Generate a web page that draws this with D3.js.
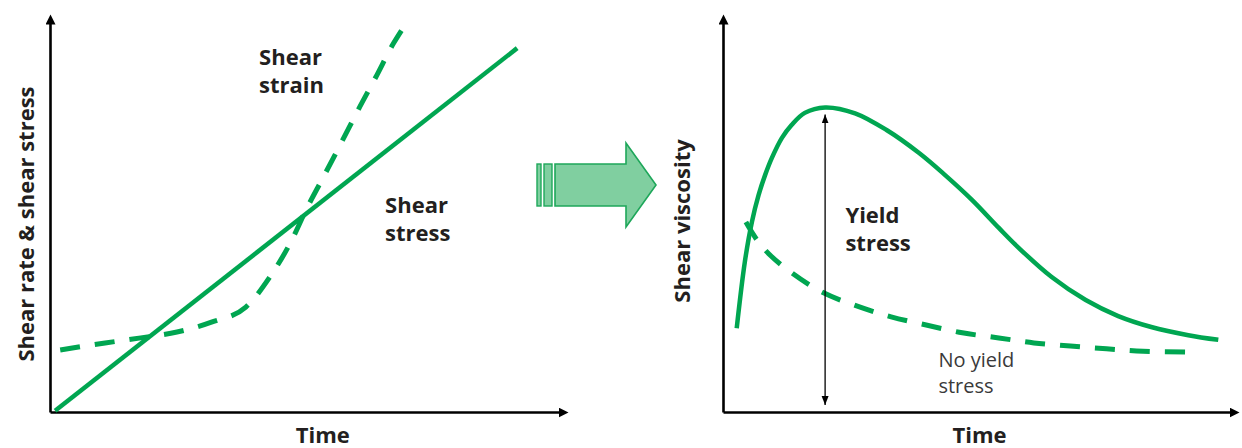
<!DOCTYPE html>
<html>
<head>
	<title>shear viscosity</title>
	<meta charset="utf-8">
	<script src="https://cdn.jsdelivr.net/npm/d3@7"></script>
</head>
<style type="text/css">
	body { margin:0; background-color:#ffffff; }
	svg text { font-family:"Open Sans", "Noto Sans", sans-serif; }
</style>
<body>
</body>
</html>
<script type="text/javascript">
	// left panel: shear stress (solid) and shear strain (dashed) against time
	var stressTime = [1, 91.6];
	var stressValue = [0.3, 93.3];
	var strainTime = [2, 10.8, 17.8, 24.9, 31.8, 38.4, 43.1, 47.3, 50.2, 53.5, 57.1, 60.4, 63.9, 67.3, 70];
	var strainValue = [15.9, 17.7, 19, 20.5, 23.1, 26.9, 34.6, 43.8, 51.8, 60, 69, 77.4, 85.9, 94.4, 100];

	// right panel: viscosity with yield stress (solid) and without (dashed)
	var yieldTime = [2.7, 4.3, 5.7, 7, 8.3, 9.6, 11.6, 13.5, 16.1, 20.1, 26, 32.2, 38.6, 43.5, 49, 54.3, 58.2, 64.7, 71.4, 77.8, 84.3, 91.6, 97.5];
	var yieldValue = [21.5, 38.5, 48.8, 55.6, 60.8, 65.1, 70.3, 73.6, 76.7, 78.1, 76.6, 72.3, 66.4, 61, 54.4, 47.2, 42.1, 34.6, 28.7, 24.6, 21.8, 19.7, 18.5];
	var noYieldTime = [4.5, 6.7, 9.2, 13.3, 19.4, 26.3, 33.1, 40, 47.1, 54.3, 61.2, 68.4, 75.5, 82.7, 91.6];
	var noYieldValue = [48.7, 44.1, 40.3, 35.9, 30.8, 27.2, 24.4, 22.3, 20.3, 19, 17.7, 16.9, 16.2, 15.6, 15.4];

	var green = "#00a651";
	var ink = "#231f20";
	var width = 1242, height = 448;

	var svg = d3.select("body").append("svg").attr("width", width).attr("height", height);

	var defs = svg.append("defs");
	defs.append("marker").attr("id", "axisArrow")
		.attr("markerUnits", "userSpaceOnUse")
		.attr("markerWidth", 12).attr("markerHeight", 10)
		.attr("refX", 2).attr("refY", 5).attr("orient", "auto")
		.append("path").attr("d", "M0,0L10,5L0,10z").attr("fill", "#000");
	defs.append("marker").attr("id", "thinArrow")
		.attr("markerUnits", "userSpaceOnUse")
		.attr("markerWidth", 10).attr("markerHeight", 8)
		.attr("refX", 9).attr("refY", 3.5).attr("orient", "auto-start-reverse")
		.append("path").attr("d", "M0,0L9,3.5L0,7z").attr("fill", "#000");

	function zip(a, b) { return a.map(function(d, i) { return [d, b[i]]; }); }

	function drawAxes(x, y) {
		var ax = svg.append("g").attr("transform", "translate(0," + y(0) + ")")
			.call(d3.axisBottom(x).tickValues([]).tickSizeOuter(0));
		var ay = svg.append("g").attr("transform", "translate(" + x(0) + ",0)")
			.call(d3.axisLeft(y).tickValues([]).tickSizeOuter(0));
		[ax, ay].forEach(function(a) {
			a.select(".domain").attr("stroke", "#000").attr("stroke-width", 2.6)
				.attr("marker-end", "url(#axisArrow)");
		});
	}

	function label(x, y, lines, size, weight, color, anchor, lh) {
		var t = svg.append("text").attr("x", x).attr("y", y)
			.attr("font-size", size).attr("font-weight", weight)
			.attr("fill", color).attr("text-anchor", anchor || "start");
		lines.forEach(function(s, i) {
			t.append("tspan").attr("x", x).attr("dy", i ? (lh || 28) : 0).text(s);
		});
		return t;
	}

	// ---- left panel
	var xL = d3.scaleLinear().domain([0, 100]).range([50, 560]);
	var yL = d3.scaleLinear().domain([0, 100]).range([412, 22]);
	var lineL = d3.line().x(function(d){ return xL(d[0]); }).y(function(d){ return yL(d[1]); }).curve(d3.curveMonotoneX);

	drawAxes(xL, yL);

	svg.append("path").attr("d", lineL(zip(strainTime, strainValue)))
		.attr("fill", "none").attr("stroke", green).attr("stroke-width", 5)
		.attr("stroke-dasharray", "20,15");
	svg.append("path").attr("d", lineL(zip(stressTime, stressValue)))
		.attr("fill", "none").attr("stroke", green).attr("stroke-width", 4.5);

	label(xL(41), yL(89), ["Shear", "strain"], 22, "bold", ink);
	label(xL(65.7), yL(51), ["Shear", "stress"], 22, "bold", ink);
	label(xL(53.5), yL(0) + 31, ["Time"], 22, "bold", ink, "middle");
	svg.append("text").attr("transform", "translate(34,224) rotate(-90)")
		.attr("text-anchor", "middle").attr("font-size", 22).attr("font-weight", "bold")
		.attr("fill", ink).text("Shear rate & shear stress");

	// ---- big arrow between the panels
	var arrowPts = [[555,164],[626,164],[626,143],[656,185],[626,227],[626,206],[555,206]];
	svg.append("polygon").attr("points", arrowPts.join(" "))
		.attr("fill", "#80cfa0").attr("stroke", "#1ea75a").attr("stroke-width", 1.6);
	[[537,4],[544,8]].forEach(function(s) {
		svg.append("rect").attr("x", s[0]).attr("y", 164).attr("width", s[1]).attr("height", 42)
			.attr("fill", "#80cfa0").attr("stroke", "#1ea75a").attr("stroke-width", 1.4);
	});

	// ---- right panel
	var xR = d3.scaleLinear().domain([0, 100]).range([723, 1231]);
	var yR = d3.scaleLinear().domain([0, 100]).range([412, 22]);
	var lineR = d3.line().x(function(d){ return xR(d[0]); }).y(function(d){ return yR(d[1]); }).curve(d3.curveCatmullRom.alpha(0.5));

	drawAxes(xR, yR);

	svg.append("path").attr("d", lineR(zip(noYieldTime, noYieldValue)))
		.attr("fill", "none").attr("stroke", green).attr("stroke-width", 5)
		.attr("stroke-dasharray", "20,15");
	svg.append("path").attr("d", lineR(zip(yieldTime, yieldValue)))
		.attr("fill", "none").attr("stroke", green).attr("stroke-width", 4.5);

	// double arrow at the peak of the yield curve
	var peak = d3.maxIndex(yieldValue);
	svg.append("line")
		.attr("x1", xR(yieldTime[peak])).attr("x2", xR(yieldTime[peak]))
		.attr("y1", yR(1.8)).attr("y2", yR(yieldValue[peak] - 1.8))
		.attr("stroke", "#000").attr("stroke-width", 1.3)
		.attr("marker-start", "url(#thinArrow)").attr("marker-end", "url(#thinArrow)");

	label(xR(24.1), yR(48.5), ["Yield", "stress"], 22, "bold", ink);
	label(xR(42.4), yR(11.5), ["No yield", "stress"], 20, "normal", "#3a3a3a", "start", 26);
	label(xR(50.5), yR(0) + 31, ["Time"], 22, "bold", ink, "middle");
	svg.append("text").attr("transform", "translate(690,221) rotate(-90)")
		.attr("text-anchor", "middle").attr("font-size", 22).attr("font-weight", "bold")
		.attr("fill", ink).text("Shear viscosity");
</script>
